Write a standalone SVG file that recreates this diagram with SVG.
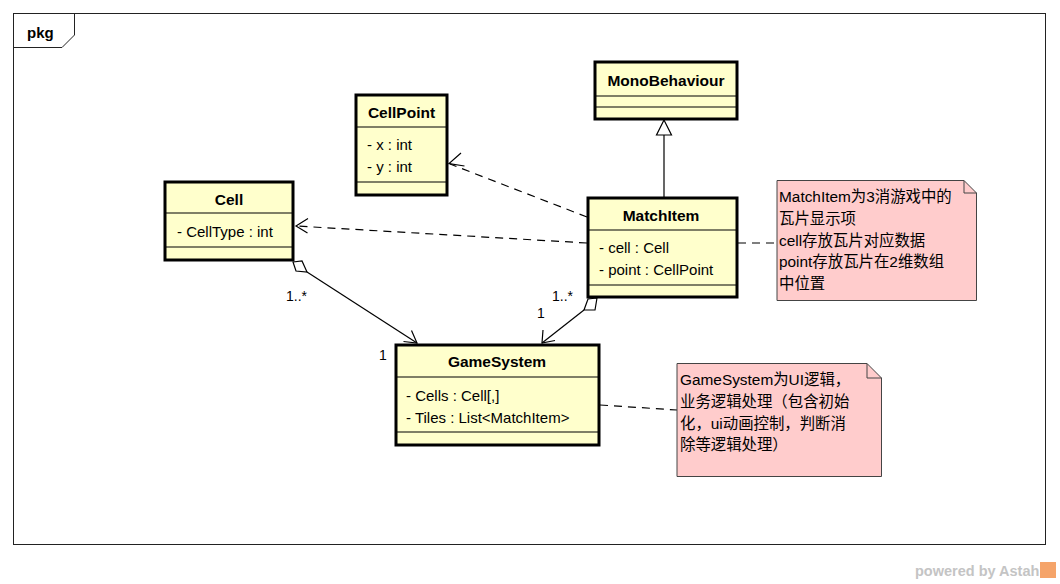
<svg xmlns="http://www.w3.org/2000/svg" width="1060" height="584" viewBox="0 0 1060 584">
<defs>
<style>
.cls{fill:#FFFFCC;stroke:#000;stroke-width:3}
.sep{stroke:#000;stroke-width:1.2}
.name{font-family:"Liberation Sans",Arial,sans-serif;font-size:15.5px;font-weight:bold;fill:#000;text-anchor:middle}
.attr{font-family:"Liberation Sans",Arial,sans-serif;font-size:15px;fill:#000}
.note{fill:#FFCCCC;stroke:#444;stroke-width:1}
.ntxt{font-family:"Liberation Sans","Noto Sans CJK SC",sans-serif;font-size:15.4px;fill:#000}
.dash{fill:none;stroke:#000;stroke-width:1.2;stroke-dasharray:8,6}
.solid{fill:none;stroke:#000;stroke-width:1.2}
.mult{font-family:"Liberation Sans",Arial,sans-serif;font-size:14px;fill:#000}
</style>
</defs>
<rect x="0" y="0" width="1060" height="584" fill="#fff"/>
<g id="frame">
<rect x="13.5" y="13.5" width="1032" height="531" fill="none" stroke="#222" stroke-width="1"/>
<path d="M13.5,47.5 H62 L74.5,35 V13.5" fill="none" stroke="#222" stroke-width="1"/>
<text x="27" y="38" style="font-family:'Liberation Sans',Arial,sans-serif;font-size:15px;font-weight:bold">pkg</text>
</g>
<g id="connectors">
<line class="solid" x1="664" y1="197" x2="664" y2="135"/>
<path d="M664,120 L656.5,135 L671.5,135 Z" fill="#fff" stroke="#000" stroke-width="1.2"/>
<line class="dash" x1="587" y1="217" x2="450" y2="164"/>
<path class="solid" d="M461,153 L449,163.5 L464.5,166"/>
<line class="dash" x1="587" y1="243" x2="296" y2="226"/>
<path class="solid" d="M308,218.5 L296,226 L307.5,233"/>
<path d="M293,262 L302,261 L307,272 L296,271 Z" fill="#fff" stroke="#000" stroke-width="1.2"/>
<line class="solid" x1="307" y1="272" x2="417" y2="343"/>
<path class="solid" d="M411.5,330.5 L417,343 L403.5,341.5"/>
<path d="M597,298 L588,299 L584,310 L595,310 Z" fill="#fff" stroke="#000" stroke-width="1.2"/>
<line class="solid" x1="584" y1="310" x2="542" y2="343"/>
<path class="solid" d="M543,330 L542,343 L555,340.5"/>
<line class="dash" x1="738" y1="243" x2="777" y2="243"/>
<line class="dash" x1="600" y1="405" x2="677" y2="410"/>
<text class="mult" x="286" y="301">1..*</text>
<text class="mult" x="379" y="360">1</text>
<text class="mult" x="552" y="301">1..*</text>
<text class="mult" x="537" y="318">1</text>
</g>
<g id="MonoBehaviour">
<rect class="cls" x="595" y="62" width="142" height="57"/>
<line class="sep" x1="595" y1="96" x2="737" y2="96"/>
<line class="sep" x1="595" y1="107" x2="737" y2="107"/>
<text class="name" x="666" y="86">MonoBehaviour</text>
</g>
<g id="CellPoint">
<rect class="cls" x="356" y="95" width="91" height="100"/>
<line class="sep" x1="356" y1="127" x2="447" y2="127"/>
<line class="sep" x1="356" y1="182" x2="447" y2="182"/>
<text class="name" x="401.5" y="118">CellPoint</text>
<text class="attr" x="367" y="150">- x : int</text>
<text class="attr" x="367" y="172">- y : int</text>
</g>
<g id="Cell">
<rect class="cls" x="165" y="182" width="128" height="78"/>
<line class="sep" x1="165" y1="213" x2="293" y2="213"/>
<line class="sep" x1="165" y1="247" x2="293" y2="247"/>
<text class="name" x="229" y="205">Cell</text>
<text class="attr" x="177" y="237">- CellType : int</text>
</g>
<g id="MatchItem">
<rect class="cls" x="588" y="198" width="149" height="99"/>
<line class="sep" x1="588" y1="230" x2="737" y2="230"/>
<line class="sep" x1="588" y1="285" x2="737" y2="285"/>
<text class="name" x="661" y="221">MatchItem</text>
<text class="attr" x="599" y="253">- cell : Cell</text>
<text class="attr" x="599" y="275">- point : CellPoint</text>
</g>
<g id="GameSystem">
<rect class="cls" x="396" y="345" width="203" height="100"/>
<line class="sep" x1="396" y1="377" x2="599" y2="377"/>
<line class="sep" x1="396" y1="432" x2="599" y2="432"/>
<text class="name" x="497" y="367">GameSystem</text>
<text class="attr" x="406" y="401">- Cells : Cell[,]</text>
<text class="attr" x="406" y="423">- Tiles : List&lt;MatchItem&gt;</text>
</g>
<g id="note1">
<path class="note" d="M777,180.5 H964 L976.5,193 V300.5 H777 Z"/>
<path d="M964,180.5 V193 H976.5" fill="none" stroke="#444" stroke-width="1"/>
<text class="ntxt" x="779" y="202">MatchItem为3消游戏中的</text>
<text class="ntxt" x="779" y="224">瓦片显示项</text>
<text class="ntxt" x="779" y="246">cell存放瓦片对应数据</text>
<text class="ntxt" x="779" y="267">point存放瓦片在2维数组</text>
<text class="ntxt" x="779" y="289">中位置</text>
</g>
<g id="note2">
<path class="note" d="M677,363.5 H867 L881.5,378 V476.5 H677 Z"/>
<path d="M867,363.5 V378 H881.5" fill="none" stroke="#444" stroke-width="1"/>
<text class="ntxt" x="680" y="385">GameSystem为UI逻辑，</text>
<text class="ntxt" x="680" y="407">业务逻辑处理（包含初始</text>
<text class="ntxt" x="680" y="429">化，ui动画控制，判断消</text>
<text class="ntxt" x="680" y="450">除等逻辑处理）</text>
</g>
<g id="watermark">
<text x="915" y="576" style="font-family:'Liberation Sans',Arial,sans-serif;font-size:14.5px;font-weight:bold;fill:#c4c4c4">powered by Astah</text>
<rect x="1040" y="562" width="16" height="16" fill="#f5a46a"/>
</g>
</svg>
